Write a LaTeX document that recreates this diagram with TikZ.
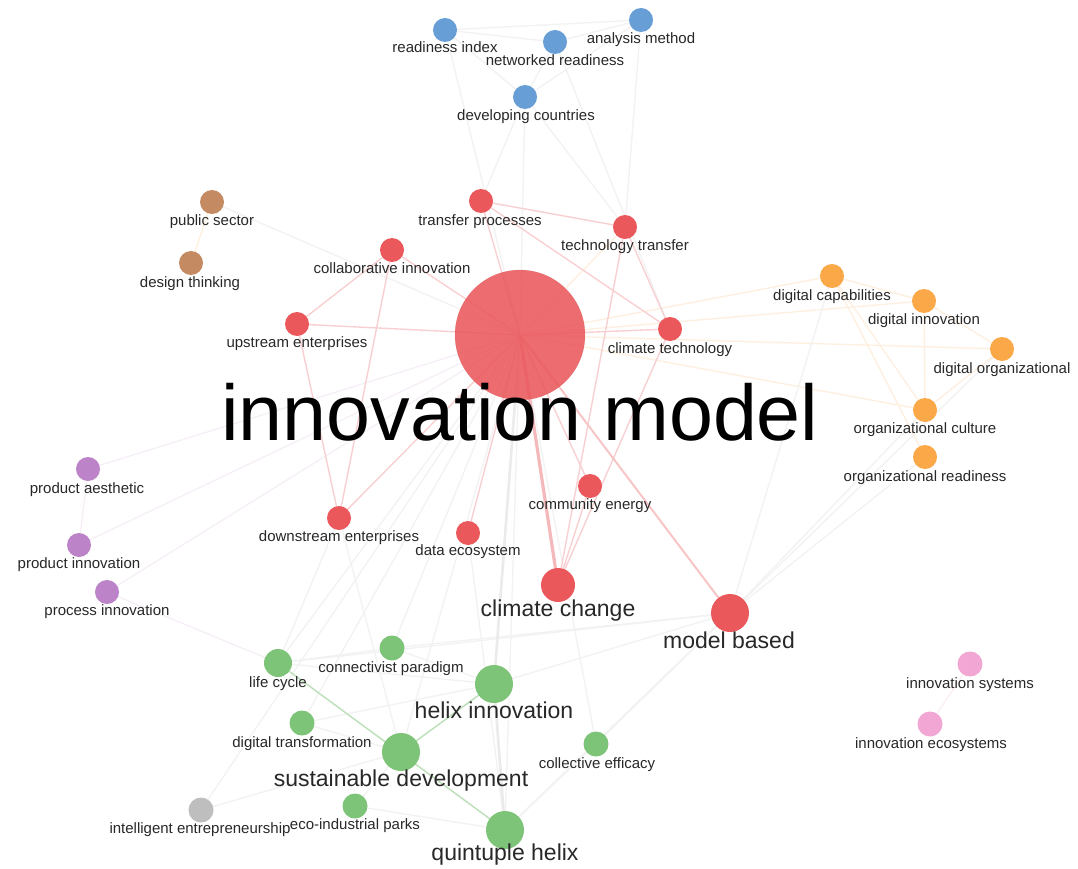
\documentclass[tikz,border=0pt]{standalone}
\usepackage{fontspec}
\setmainfont{Liberation Sans}
\pgfdeclarelayer{bg}
\pgfdeclarelayer{paper}
\pgfsetlayers{paper,bg,main}

\definecolor{nred}{RGB}{234,88,92}
\definecolor{nblue}{RGB}{104,158,214}
\definecolor{norange}{RGB}{251,168,72}
\definecolor{npurple}{RGB}{188,131,200}
\definecolor{nbrown}{RGB}{196,138,98}
\definecolor{ngreen}{RGB}{125,196,120}
\definecolor{ngray}{RGB}{190,190,190}
\definecolor{npink}{RGB}{242,166,212}
\definecolor{lbltext}{RGB}{40,40,40}

\tikzset{
  kw/.style={circle, inner sep=0pt, draw=none, minimum size=24pt},
  lbl/.style={anchor=base, inner sep=0pt, text=lbltext,
    font=\fontsize{15}{18}\selectfont},
  biglbl/.style={lbl, font=\fontsize{23}{26}\selectfont},
  link/.style={line width=1.3pt, draw=black!5},
  thicklink/.style={line width=2.6pt, draw=black!8},
  rlink/.style={line width=1.4pt, draw=nred!28},
  olink/.style={line width=1.3pt, draw=norange!18},
  glink/.style={line width=1.5pt, draw=ngreen!50},
  plink/.style={line width=1.2pt, draw=npurple!14},
  pklink/.style={line width=1.2pt, draw=npink!20},
}

\begin{document}
\begin{tikzpicture}[x=1pt,y=-1pt]
\useasboundingbox (0,0) rectangle (1078,869);
\begin{pgfonlayer}{paper}
  \fill[white] (0,0) rectangle (1078,869);
\end{pgfonlayer}

% central keyword
\node[kw, fill=nred, fill opacity=0.88, minimum size=130pt, draw=nred!85!black, draw opacity=0.3] (im) at (520,335) {};

% blue cluster
\node[kw, fill=nblue] (ri) at (445,30) {};
\node[kw, fill=nblue] (nr) at (555,42) {};
\node[kw, fill=nblue] (am) at (641,20) {};
\node[kw, fill=nblue] (dc) at (525,97) {};

% red cluster
\node[kw, fill=nred] (tp) at (481,201) {};
\node[kw, fill=nred] (tt) at (625,227) {};
\node[kw, fill=nred] (ci) at (392,250) {};
\node[kw, fill=nred] (ue) at (297,324) {};
\node[kw, fill=nred] (ct) at (670,329) {};
\node[kw, fill=nred] (ce) at (590,486) {};
\node[kw, fill=nred] (de) at (468,533) {};
\node[kw, fill=nred] (dw) at (339,518) {};
\node[kw, fill=nred, minimum size=34pt] (cc) at (558,585) {};
\node[kw, fill=nred, minimum size=38pt] (mb) at (730,613) {};

% brown cluster
\node[kw, fill=nbrown] (ps) at (212,202) {};
\node[kw, fill=nbrown] (dt) at (191,263) {};

% orange cluster
\node[kw, fill=norange] (dcap) at (832,276) {};
\node[kw, fill=norange] (dinn) at (924,301) {};
\node[kw, fill=norange] (dorg) at (1002,349) {};
\node[kw, fill=norange] (oc) at (925,410) {};
\node[kw, fill=norange] (orr) at (925,457) {};

% purple cluster
\node[kw, fill=npurple] (pa) at (88,469) {};
\node[kw, fill=npurple] (pi) at (79,545) {};
\node[kw, fill=npurple] (pr) at (107,592) {};

% green cluster
\node[kw, fill=ngreen, minimum size=28pt] (lc) at (278,663) {};
\node[kw, fill=ngreen, minimum size=25pt] (cp) at (392,648) {};
\node[kw, fill=ngreen, minimum size=38pt] (hi) at (494,684) {};
\node[kw, fill=ngreen, minimum size=25pt] (dtr) at (302,723) {};
\node[kw, fill=ngreen, minimum size=38pt] (sd) at (401,752) {};
\node[kw, fill=ngreen, minimum size=25pt] (cef) at (596,744) {};
\node[kw, fill=ngreen, minimum size=25pt] (eip) at (355,806) {};
\node[kw, fill=ngreen, minimum size=38pt] (qh) at (505,830) {};

% grey and pink
\node[kw, fill=ngray, minimum size=25pt] (ie) at (201,810) {};
\node[kw, fill=npink, minimum size=25pt] (is) at (970,664) {};
\node[kw, fill=npink, minimum size=25pt] (ies) at (930,724) {};

% links
\begin{pgfonlayer}{bg}
  % blue
  \foreach \a/\b in {dc/ri, dc/nr, dc/am, ri/nr, ri/am, nr/am, dc/im, dc/tp, dc/tt, ri/im, nr/ct, am/tt}
    \draw[link] (\a.center) -- (\b.center);
  % brown, purple
  \draw[olink] (ps.center) -- (dt.center);
  \draw[link] (ps.center) -- (im.center);
  \foreach \a/\b in {pa/pi, pi/im, pa/im, pr/lc, pr/im}
    \draw[plink] (\a.center) -- (\b.center);
  % orange
  \foreach \a/\b in {dcap/dinn, dcap/oc, dinn/oc, dorg/oc, dorg/dinn, dcap/orr, im/dcap, im/dinn, im/dorg, im/oc, im/tt}
    \draw[olink] (\a.center) -- (\b.center);
  % green and across clusters
  \foreach \a/\b in {lc/cp, lc/dw, lc/im, lc/mb, lc/hi, cp/im, cp/hi, cp/mb, dtr/hi, dtr/sd, dtr/im, hi/mb, cef/qh, cef/mb, cef/im, eip/qh, eip/sd, ie/sd, ie/im, sd/im, qh/mb, mb/orr, mb/oc, mb/dcap, mb/dorg, de/qh, dw/sd}
    \draw[link] (\a.center) -- (\b.center);
  \draw[thicklink] (hi.center) -- (im.center);
  \draw[thicklink] (hi.center) -- (qh.center);
  \draw[link] (qh.center) -- (im.center);
  \draw[glink] (lc.center) -- (qh.center);
  \draw[glink] (hi.center) -- (sd.center);
  \draw[pklink] (is.center) -- (ies.center);
  % red
  \foreach \a/\b in {im/tp, im/ci, im/ue, im/ct, im/ce, im/dw, im/de, tp/tt, tp/ct, tt/ct, tt/cc, ct/cc, ce/cc, ci/ue, ci/dw, ue/dw}
    \draw[rlink] (\a.center) -- (\b.center);
  \draw[rlink, line width=2pt, draw=nred!35] (im.center) -- (mb.center);
  \draw[rlink, line width=3.2pt, draw=nred!42] (im.center) -- (cc.center);
\end{pgfonlayer}

% labels
\node[lbl] (ri-l) at (445,53) {readiness index};
\node[lbl] (nr-l) at (555,66) {networked readiness};
\node[lbl] (am-l) at (641,44) {analysis method};
\node[lbl] (dc-l) at (526,121) {developing countries};
\node[lbl] (tp-l) at (480,225) {transfer processes};
\node[lbl] (tt-l) at (625,250) {technology transfer};
\node[lbl] (ci-l) at (392,273) {collaborative innovation};
\node[lbl] (ue-l) at (297,347) {upstream enterprises};
\node[lbl] (ct-l) at (670,353) {climate technology};
\node[lbl] (ps-l) at (212,225) {public sector};
\node[lbl] (dt-l) at (190,287) {design thinking};
\node[lbl] (dcap-l) at (832,300) {digital capabilities};
\node[lbl] (dinn-l) at (924,324) {digital innovation};
\node[lbl] (dorg-l) at (1002,373) {digital organizational};
\node[lbl] (oc-l) at (925,433) {organizational culture};
\node[lbl] (orr-l) at (925,481) {organizational readiness};
\node[lbl] (pa-l) at (87,493) {product aesthetic};
\node[lbl] (pi-l) at (79,568) {product innovation};
\node[lbl] (pr-l) at (107,615) {process innovation};
\node[lbl] (ce-l) at (590,509) {community energy};
\node[lbl] (de-l) at (468,555) {data ecosystem};
\node[lbl] (dw-l) at (339,541) {downstream enterprises};
\node[lbl] (lc-l) at (278,687) {life cycle};
\node[lbl] (cp-l) at (391,672) {connectivist paradigm};
\node[lbl] (dtr-l) at (302,747) {digital transformation};
\node[lbl] (cef-l) at (597,768) {collective efficacy};
\node[lbl] (ie-l) at (200,833) {intelligent entrepreneurship};
\node[lbl] (eip-l) at (355,829) {eco-industrial parks};
\node[lbl] (is-l) at (970,688) {innovation systems};
\node[lbl] (ies-l) at (931,748) {innovation ecosystems};
\node[biglbl] (cc-l) at (558,616) {climate change};
\node[biglbl] (mb-l) at (729,648) {model based};
\node[biglbl] (hi-l) at (494,718) {helix innovation};
\node[biglbl] (sd-l) at (401,786) {sustainable development};
\node[biglbl] (qh-l) at (505,860) {quintuple helix};
\node[anchor=base, inner sep=0pt, text=black, font=\fontsize{79}{84}\selectfont] (im-l) at (520,440) {innovation model};
\end{tikzpicture}
\end{document}
